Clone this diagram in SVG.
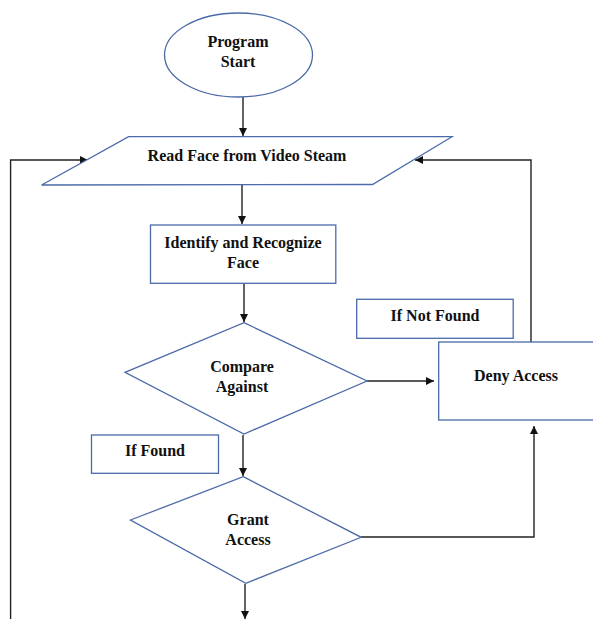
<svg xmlns="http://www.w3.org/2000/svg" width="593" height="619" viewBox="0 0 593 619">
<style>
.node{fill:#fff;stroke:#4a6aa8;stroke-width:1.3}
.t{font-family:"Liberation Serif","Times New Roman",serif;font-weight:bold;font-size:16px;fill:#111;text-anchor:middle}
.c{fill:none;stroke:#222;stroke-width:1.4}
</style>
<defs>
<marker id="ah" viewBox="0 0 10 10" refX="10" refY="5" markerWidth="8" markerHeight="8" markerUnits="userSpaceOnUse" orient="auto">
<path d="M0,0 L10,5 L0,10 z" fill="#111"/>
</marker>
</defs>
<rect width="593" height="619" fill="#fff"/>
<g id="connectors">
<path class="c" d="M243,97 V136" marker-end="url(#ah)"/>
<path class="c" d="M242,185 V224" marker-end="url(#ah)"/>
<path class="c" d="M244,284 V322" marker-end="url(#ah)"/>
<path class="c" d="M367,381 H434" marker-end="url(#ah)"/>
<path class="c" d="M531,343 V160 H415" marker-end="url(#ah)"/>
<path class="c" d="M10.6,619 V160 H88" marker-end="url(#ah)"/>
<path class="c" d="M243,435 V476" marker-end="url(#ah)"/>
<path class="c" d="M361,537 H534 V426" marker-end="url(#ah)"/>
<path class="c" d="M245,584 V619" marker-end="url(#ah)"/>
</g>
<g id="start">
<ellipse class="node" cx="238.5" cy="55" rx="74" ry="42"/>
<text class="t" x="238" y="47">Program</text>
<text class="t" x="238" y="67">Start</text>
</g>
<g id="read">
<polygon class="node" points="128.6,136.7 452,136.7 372.5,184.5 41.6,185"/>
<text class="t" x="247" y="161">Read Face from Video Steam</text>
</g>
<g id="identify">
<rect class="node" x="150.5" y="225" width="185.3" height="58.3"/>
<text class="t" x="243" y="247.5">Identify and Recognize</text>
<text class="t" x="243" y="267.5">Face</text>
</g>
<g id="compare">
<polygon class="node" points="244,322.7 367,381 244,434 125,372.3"/>
<text class="t" x="242" y="372">Compare</text>
<text class="t" x="242" y="392">Against</text>
</g>
<g id="ifnotfound">
<rect class="node" x="356.7" y="299.3" width="156.5" height="39"/>
<text class="t" x="435" y="320.5">If Not Found</text>
</g>
<g id="deny">
<rect class="node" x="438.7" y="342" width="160" height="78"/>
<text class="t" x="516" y="381">Deny Access</text>
</g>
<g id="iffound">
<rect class="node" x="91.5" y="435" width="127" height="38.3"/>
<text class="t" x="155" y="456">If Found</text>
</g>
<g id="grant">
<polygon class="node" points="243.2,476.7 361.2,537.3 245.8,583.3 130.5,520"/>
<text class="t" x="248" y="525">Grant</text>
<text class="t" x="248" y="545">Access</text>
</g>
</svg>
